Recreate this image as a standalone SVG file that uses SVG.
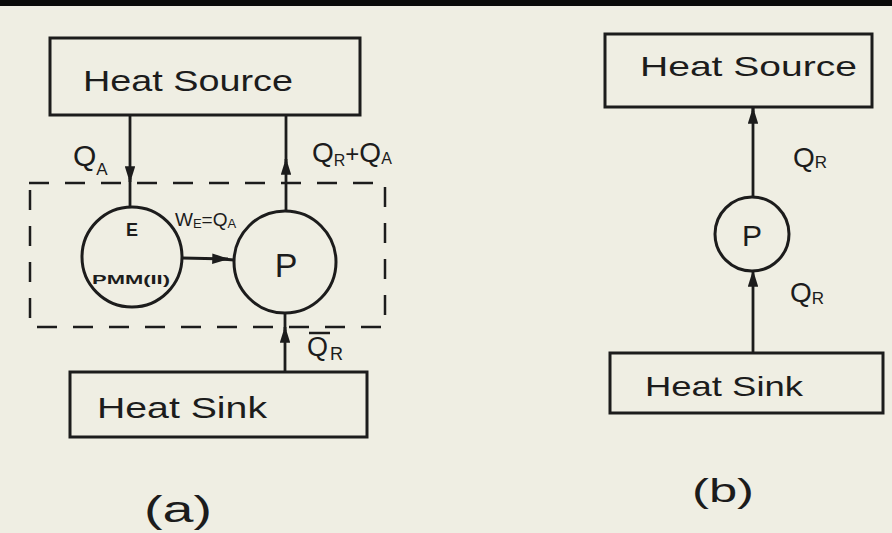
<svg xmlns="http://www.w3.org/2000/svg" width="892" height="533" viewBox="0 0 892 533">
<style>
.box{fill:none;stroke:#1c1c1c;stroke-width:3}
.ln{fill:none;stroke:#1c1c1c;stroke-width:2.8}
.dash{fill:none;stroke:#1c1c1c;stroke-width:2.5;stroke-dasharray:20 16}
.t{font-family:"Liberation Sans","DejaVu Sans",sans-serif;fill:#1c1c1c}
</style>
<defs>
<marker id="ah" viewBox="0 0 16 10" refX="15" refY="5" markerWidth="6" markerHeight="3.75" orient="auto" markerUnits="strokeWidth">
<path d="M0 0 L16 5 L0 10 Z" fill="#1c1c1c"/>
</marker>
</defs>
<rect x="0" y="0" width="892" height="533" fill="#efeee3"/>
<rect x="0" y="0" width="892" height="6" fill="#0a0a0a"/>

<g id="connectors">
<path class="ln" d="M130 115 V182" marker-end="url(#ah)"/>
<path class="ln" d="M130 178 V207"/>
<path class="ln" d="M286 212 V159" marker-end="url(#ah)"/>
<path class="ln" d="M286 163 V115"/>
<path class="ln" d="M182 258 L228 259" marker-end="url(#ah)"/>
<path class="ln" d="M222 259 L234 260"/>
<path class="ln" d="M285 372 V327" marker-end="url(#ah)"/>
<path class="ln" d="M285 331 V313"/>
<path class="ln" d="M753 197 V108" marker-end="url(#ah)"/>
<path class="ln" d="M753 112 V107"/>
<path class="ln" d="M753 353 V271" marker-end="url(#ah)"/>
<text class="t" x="73" y="166" font-size="30">Q<tspan font-size="17" dy="9">A</tspan></text>
<text class="t" x="312" y="162" font-size="28">Q<tspan font-size="16" dy="4">R</tspan><tspan dy="-4" font-size="24">+</tspan>Q<tspan font-size="16" dy="2">A</tspan></text>
<text class="t" x="175" y="226" font-size="19">W<tspan font-size="13" dy="2">E</tspan><tspan dy="-2">=Q</tspan><tspan font-size="13" dy="2">A</tspan></text>
<line x1="309" y1="333" x2="330" y2="333" stroke="#1c1c1c" stroke-width="2.5"/>
<text class="t" x="307" y="356" font-size="27">Q</text>
<text class="t" x="330" y="360" font-size="18">R</text>
<text class="t" x="793" y="167" font-size="28">Q<tspan font-size="17" dy="1">R</tspan></text>
<text class="t" x="790" y="302" font-size="28">Q<tspan font-size="17" dy="2">R</tspan></text>
</g>

<g id="system-boundary">
<path class="dash" d="M30 190 V327 H385 V183 H28 V190"/>
</g>

<g id="heat-source-a">
<rect class="box" x="50" y="38" width="310" height="77"/>
<text class="t" x="83" y="91" font-size="30" textLength="210" lengthAdjust="spacingAndGlyphs">Heat Source</text>
</g>

<g id="engine-e">
<circle class="box" cx="132" cy="257" r="50"/>
<text class="t" x="132" y="236" font-size="18" font-weight="bold" text-anchor="middle">E</text>
<text class="t" x="92" y="284" font-size="13" font-weight="bold" textLength="78" lengthAdjust="spacingAndGlyphs">PMM(II)</text>
</g>

<g id="pump-a">
<circle class="box" cx="285" cy="262" r="51"/>
<text class="t" x="286" y="277" font-size="34" text-anchor="middle">P</text>
</g>

<g id="heat-sink-a">
<rect class="box" x="70" y="372" width="297" height="65"/>
<text class="t" x="97" y="418" font-size="30" textLength="170" lengthAdjust="spacingAndGlyphs">Heat Sink</text>
</g>

<g id="label-a">
<text class="t" x="144" y="522" font-size="36" textLength="68" lengthAdjust="spacingAndGlyphs">(a)</text>
</g>

<g id="heat-source-b">
<rect class="box" x="605" y="34" width="267" height="73"/>
<text class="t" x="640" y="76" font-size="28" textLength="217" lengthAdjust="spacingAndGlyphs">Heat Source</text>
</g>

<g id="pump-b">
<circle class="box" cx="752" cy="234" r="37"/>
<text class="t" x="752" y="246" font-size="30" text-anchor="middle">P</text>
</g>

<g id="heat-sink-b">
<rect class="box" x="610" y="353" width="273" height="60"/>
<text class="t" x="645" y="396" font-size="28" textLength="158" lengthAdjust="spacingAndGlyphs">Heat Sink</text>
</g>

<g id="label-b">
<text class="t" x="692" y="502" font-size="34" textLength="62" lengthAdjust="spacingAndGlyphs">(b)</text>
</g>
</svg>
